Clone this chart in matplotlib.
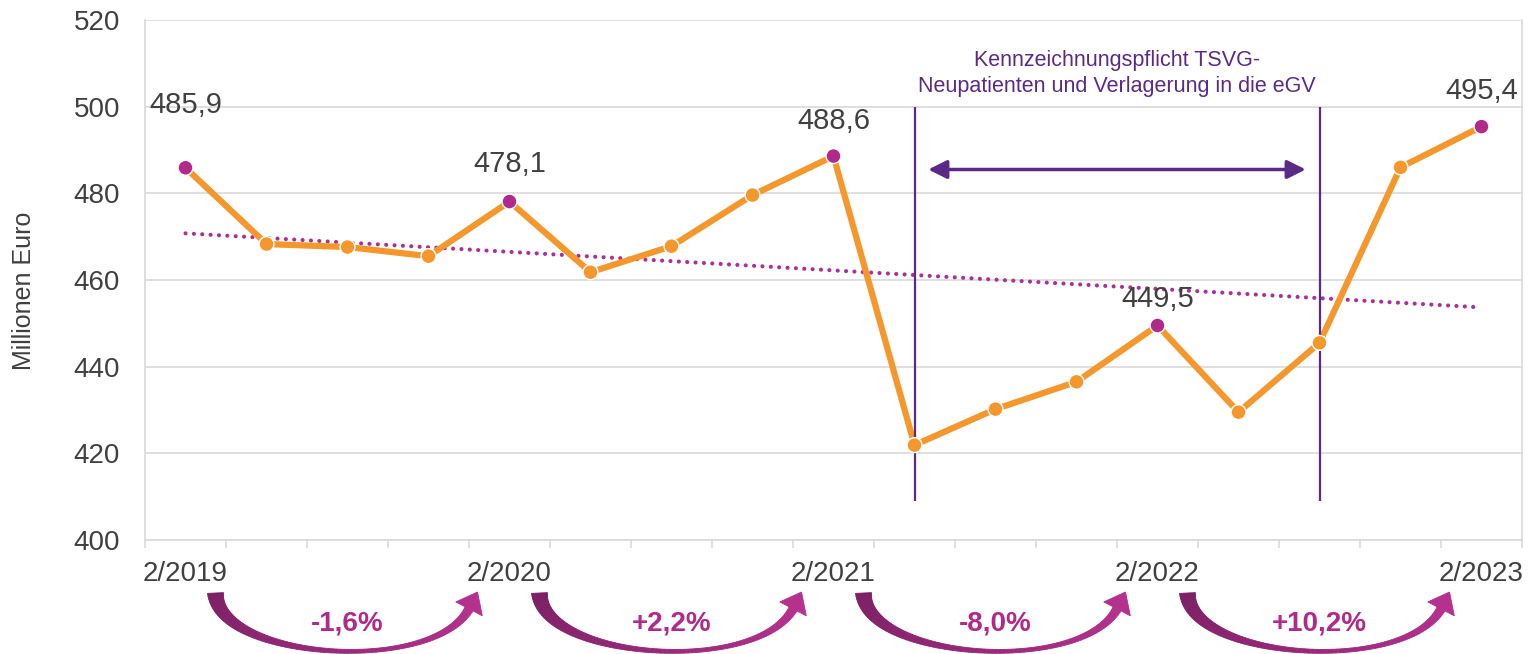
import numpy as np
import matplotlib
matplotlib.use("Agg")
import matplotlib.pyplot as plt
import matplotlib.transforms as mtransforms
from matplotlib.patches import Polygon

plt.rcParams['font.family'] = ['Liberation Sans', 'DejaVu Sans']

# -------------------------------
# Data
# -------------------------------
quarters = ["2/2019", "3/2019", "4/2019", "1/2020", "2/2020", "3/2020", "4/2020", "1/2021",
            "2/2021", "3/2021", "4/2021", "1/2022", "2/2022", "3/2022", "4/2022", "1/2023", "2/2023"]
values = [485.9, 468.3, 467.6, 465.5, 478.1, 461.8, 467.8, 479.6,
          488.6, 421.9, 430.2, 436.5, 449.5, 429.5, 445.5, 486.0, 495.4]
label_idx = [0, 4, 8, 12, 16]
label_offset_px = [63, 38, 35, 27, 36]

period_bounds = [(0, 4), (4, 8), (8, 12), (12, 16)]
period_changes = ["-1,6%", "+2,2%", "-8,0%", "+10,2%"]

span_x = [9, 14]
span_y = [409, 500]
span_text = "Kennzeichnungspflicht TSVG-\nNeupatienten und Verlagerung in die eGV"

ORANGE = "#F4982D"
MAGENTA = "#B02A8A"
VIOLET = "#5B2A86"
GRID = "#D9D9D9"
TEXT = "#404040"

W, H = 1531, 654
fig = plt.figure(figsize=(W / 100, H / 100), dpi=100)
ax = fig.add_axes([145 / W, (H - 540) / H, (1522 - 145) / W, 520 / H])

x = np.arange(len(values))

# trend line (linear fit of the series)
k, d = np.polyfit(x, values, 1)
ax.plot(x, k * x + d, color="#A8329A", lw=3, linestyle=(0, (0.01, 2.0)),
        dash_capstyle="round", zorder=2)

ax.plot(x, values, color=ORANGE, lw=4.5, zorder=3, solid_capstyle="round")
mcolors = [MAGENTA if i in label_idx else ORANGE for i in x]
ax.scatter(x, values, s=115, c=mcolors, edgecolors="white", linewidths=1.0, zorder=4)

for i, off in zip(label_idx, label_offset_px):
    ax.annotate(f"{values[i]:.1f}".replace(".", ","), (x[i], values[i]),
                xytext=(0, off), textcoords="offset pixels",
                ha="center", va="center", fontsize=21, color=TEXT, zorder=5)

# span markers
ax.vlines(span_x, span_y[0], span_y[1], color=VIOLET, lw=1.6, zorder=3)
ax.annotate("", xy=(span_x[0] + 0.17, 485.5), xytext=(span_x[1] - 0.17, 485.5),
            arrowprops=dict(arrowstyle="<|-|>", color=VIOLET, lw=2.5,
                            mutation_scale=28, shrinkA=0, shrinkB=0), zorder=3)
ax.text(np.mean(span_x), 507.6, span_text, ha="center", va="center",
        fontsize=15.5, color=VIOLET, linespacing=1.3)

# axes styling
ax.set_ylim(400, 520)
ax.set_xlim(-0.5, len(values) - 0.5)
ax.set_yticks(np.arange(400, 521, 20))
ax.set_xticks(label_idx)
ax.set_xticklabels([quarters[i] for i in label_idx])
ax.set_xticks(np.arange(-0.5, len(values), 1), minor=True)
ax.tick_params(axis="y", length=0, pad=18, labelsize=20, labelcolor=TEXT)
ax.tick_params(axis="x", which="major", length=0, pad=15, labelsize=20, labelcolor=TEXT)
ax.tick_params(axis="x", which="minor", length=6, width=1.2, color=GRID)
ax.grid(axis="y", color=GRID, lw=1.2)
ax.set_axisbelow(True)
for side in ["left", "bottom", "right"]:
    ax.spines[side].set_color(GRID)
    ax.spines[side].set_linewidth(1.2)
ax.spines["top"].set_visible(False)
ax.set_ylabel("Millionen Euro", fontsize=18, color=TEXT)
ax.yaxis.set_label_coords(-0.079, 0.479)

# curved period arrows below the axis (drawn in pixel space)
def px(c):
    return ax.transData.transform((c, 400))[0]

def to_fig(pts):
    pts = np.asarray(pts, dtype=float)
    return np.column_stack([pts[:, 0] / W, (H - pts[:, 1]) / H])

c0 = np.array(matplotlib.colors.to_rgb("#7C2064"))
c1 = np.array(matplotlib.colors.to_rgb("#B5318E"))

for (s, e), lab in zip(period_bounds, period_changes):
    xs, xe = px(s), px(e)
    P = np.array([[xs + 30, 593], [xs + 33, 660], [xe - 75, 675], [xe - 40, 608]])
    t = np.linspace(0, 1, 90)
    B = ((1 - t) ** 3)[:, None] * P[0] + (3 * (1 - t) ** 2 * t)[:, None] * P[1] \
        + (3 * (1 - t) * t ** 2)[:, None] * P[2] + (t ** 3)[:, None] * P[3]
    dB = (3 * (1 - t) ** 2)[:, None] * (P[1] - P[0]) + (6 * (1 - t) * t)[:, None] * (P[2] - P[1]) \
        + (3 * t ** 2)[:, None] * (P[3] - P[2])
    tang = dB / np.linalg.norm(dB, axis=1)[:, None]
    nrm = np.column_stack([-tang[:, 1], tang[:, 0]])
    w = 2.0 + 14.0 * (1 - t) ** 3 + 7.0 * t ** 4
    upper = B + nrm * (w / 2)[:, None]
    lower = B - nrm * (w / 2)[:, None]
    for j in range(len(t) - 1):
        quad = [upper[j], upper[j + 1], lower[j + 1], lower[j]]
        col = c0 + (c1 - c0) * t[j]
        fig.patches.append(Polygon(to_fig(quad), closed=True, facecolor=col,
                                   edgecolor=col, lw=0.6, transform=fig.transFigure))
    # head
    base = P[3] - tang[-1] * 1.0
    n = nrm[-1]
    tip = np.array([xe - 32, 592])
    head = [base + n * 15, tip, base - n * 15]
    fig.patches.append(Polygon(to_fig(head), closed=True, facecolor=c1, edgecolor=c1,
                               lw=0.6, transform=fig.transFigure))
    ax.text((s + e) / 2, -0.1615, lab,
            transform=mtransforms.blended_transform_factory(ax.transData, ax.transAxes),
            ha="center", va="center", fontsize=20, fontweight="bold", color="#B02A8A",
            clip_on=False)

fig.savefig("out.png", dpi=100)
